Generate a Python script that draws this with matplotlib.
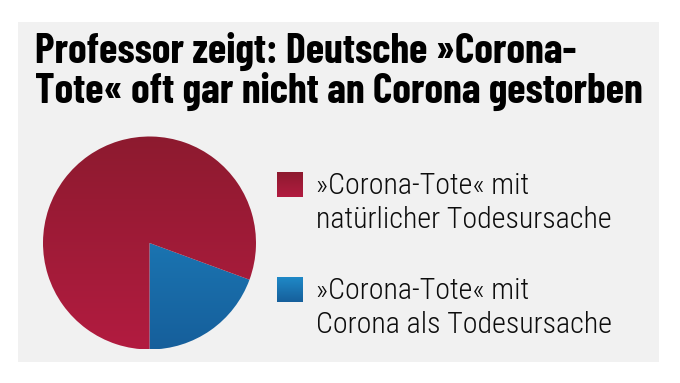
import numpy as np
import matplotlib.pyplot as plt
from matplotlib.colors import LinearSegmentedColormap
from matplotlib.patches import Rectangle

title_lines = ["Professor zeigt: Deutsche »Corona-",
               "Tote« oft gar nicht an Corona gestorben"]
labels = ["»Corona-Tote« mit\nnatürlicher Todesursache",
          "»Corona-Tote« mit\nCorona als Todesursache"]
shares = [80.6, 19.4]   # percent
# gradient colours (top, bottom)
grad_colors = [("#8d1a2f", "#b21c40"), ("#1f89c7", "#165f9b")]

W, H = 680, 383
fig = plt.figure(figsize=(W / 100, H / 100), dpi=100, facecolor="white")

def px(x, y):
    # pixel coords measured from top-left -> figure fraction
    return x / W, 1 - y / H

# gray panel
fig.patches.append(Rectangle((18 / W, 1 - 362 / H), (659 - 18) / W, (362 - 22) / H,
                             transform=fig.transFigure, facecolor="#f1f1f1",
                             edgecolor="none", zorder=-5))

def fit(t, width):
    # shrink/grow a text so it spans `width` pixels
    r = fig.canvas.get_renderer()
    w = t.get_window_extent(r).width
    t.set_fontsize(t.get_fontsize() * width / w)

title_font = dict(family=["Barlow Condensed", "DejaVu Sans"], weight=700)
t = fig.text(*px(35, 63), title_lines[0], fontsize=28, color="black",
             va="baseline", ha="left", **title_font)
fit(t, 543)
t2 = fig.text(*px(35, 103), title_lines[1], fontsize=t.get_fontsize(),
              color="black", va="baseline", ha="left", **title_font)

# pie
cx, cy, r = 149.5, 243, 106.5
ax = fig.add_axes([(cx - r) / W, 1 - (cy + r) / H, 2 * r / W, 2 * r / H])
ax.set_facecolor("none")
wedges, _ = ax.pie(shares[::-1], startangle=-90, counterclock=True, radius=1)
ax.set_xlim(-1, 1)
ax.set_ylim(-1, 1)
ax.axis("off")
grad = np.linspace(0, 1, 256).reshape(-1, 1)
for w, (c_top, c_bot) in zip(wedges, grad_colors[::-1]):
    w.set_facecolor("none")
    w.set_edgecolor("none")
    cmap = LinearSegmentedColormap.from_list("g", [c_top, c_bot])
    im = ax.imshow(grad, cmap=cmap, extent=[-1, 1, -1, 1], aspect="auto",
                   origin="upper", zorder=1)
    im.set_clip_path(w)

# legend
label_font = dict(family=["Roboto Condensed", "DejaVu Sans"], weight=300)
size = None
for i, (lab, (c_top, c_bot)) in enumerate(zip(labels, grad_colors)):
    y0 = 172 + 105 * i
    sq = fig.add_axes([277 / W, 1 - (y0 + 25) / H, 26 / W, 25 / H])
    sq.imshow(grad, cmap=LinearSegmentedColormap.from_list("s", [c_top, c_bot]),
              aspect="auto")
    sq.axis("off")
    l1, l2 = lab.split("\n")
    a = fig.text(*px(316, y0 + 22), l1, fontsize=20, color="#0d0d0d",
                 va="baseline", ha="left", **label_font)
    b = fig.text(*px(316, y0 + 56), l2, fontsize=20, color="#0d0d0d",
                 va="baseline", ha="left", **label_font)
    if size is None:
        fit(b, 296)
        size = b.get_fontsize()
    a.set_fontsize(size)
    b.set_fontsize(size)

fig.savefig("out.png", dpi=100, facecolor="white")
